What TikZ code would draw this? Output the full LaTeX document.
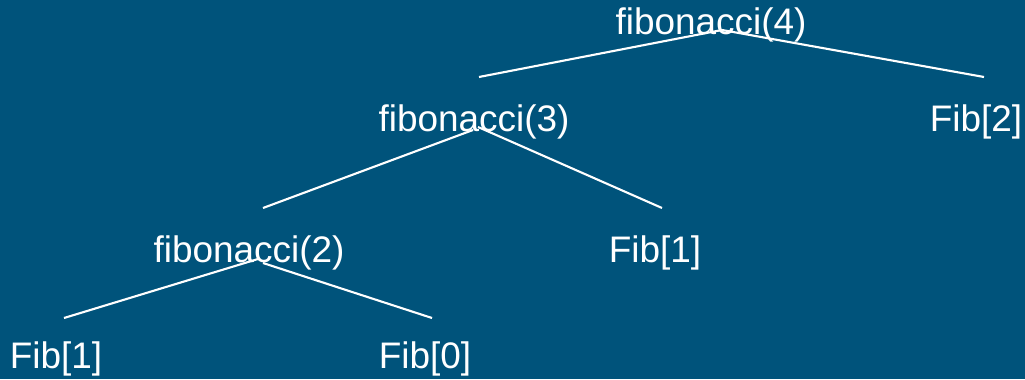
\documentclass[tikz,border=0pt]{standalone}
\usepackage{fontspec}
\setmainfont{Liberation Sans}
\usepackage{tikz}
\definecolor{slideblue}{RGB}{0,83,123}

\begin{document}
\begin{tikzpicture}[x=0.01cm, y=-0.01cm,
        callnode/.style={text=white, anchor=base, inner sep=0pt, font=\fontsize{10.5}{12}\selectfont},
        tablenode/.style={text=white, anchor=base, inner sep=0pt, font=\fontsize{10.5}{12}\selectfont},
        branch/.style={white, line width=0.6pt},
]
        \fill[slideblue] (0,0) rectangle (1025,379);
        \useasboundingbox (0,0) rectangle (1025,379);

        \node[callnode] (fibfour) at (711,35) {fibonacci(4)};
        \node[callnode] (fibthree) at (474,131) {fibonacci(3)};
        \node[tablenode] (tabtwo) at (976,131) {Fib[2]};
        \node[callnode] (fibtwo) at (249,262) {fibonacci(2)};
        \node[tablenode] (tabone) at (655,262) {Fib[1]};
        \node[tablenode] (tabonelow) at (56,368) {Fib[1]};
        \node[tablenode] (tabzero) at (425,368) {Fib[0]};

        \draw[branch] ([shift={(11,-5)}]fibfour.base) -- ([shift={(5,-54)}]fibthree.base);
        \draw[branch] ([shift={(11,-5)}]fibfour.base) -- ([shift={(8,-54)}]tabtwo.base);
        \draw[branch] ([shift={(-1,-1)}]fibthree.base) -- ([shift={(14,-54)}]fibtwo.base);
        \draw[branch] ([shift={(4,-4)}]fibthree.base) -- ([shift={(7,-54)}]tabone.base);
        \draw[branch] ([shift={(9,-3)}]fibtwo.base) -- ([shift={(8,-50)}]tabonelow.base);
        \draw[branch] ([shift={(14,1)}]fibtwo.base) -- ([shift={(7,-50)}]tabzero.base);
\end{tikzpicture}
\end{document}
